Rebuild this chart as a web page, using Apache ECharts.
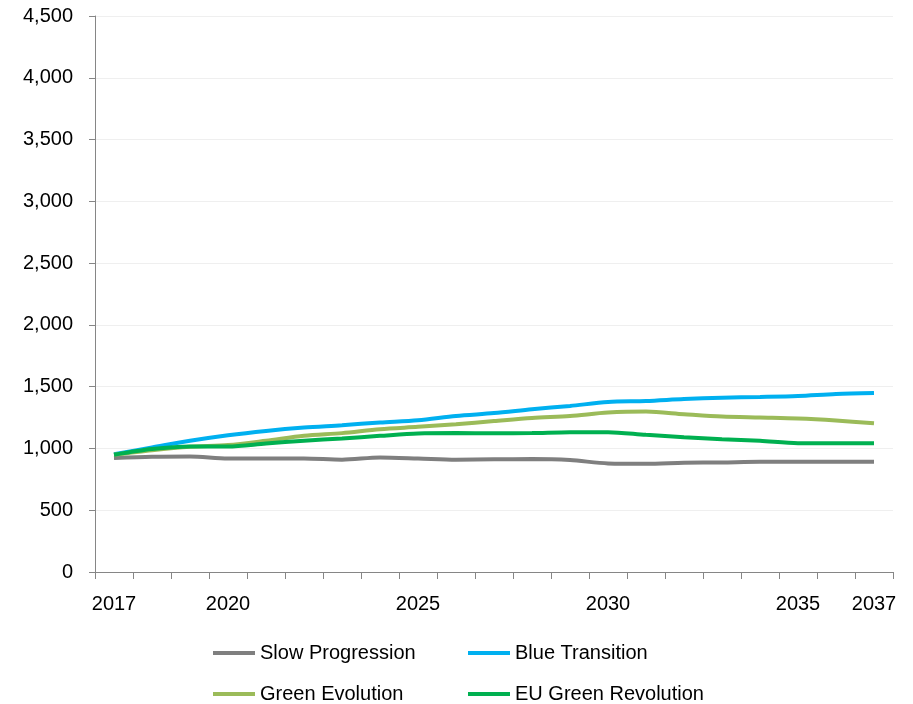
<!DOCTYPE html>
<html>
<head>
<meta charset="utf-8">
<script src="https://cdn.jsdelivr.net/npm/echarts@6/dist/echarts.min.js"></script>
<style>
  html, body { margin: 0; padding: 0; background: #fff; }
  #chart { width: 913px; height: 704px; }
</style>
</head>
<body>
<div id="chart"></div>
<script>
// years on the x axis
var years = ['2017', '2018', '2019', '2020', '2021', '2022', '2023', '2024', '2025', '2026',
             '2027', '2028', '2029', '2030', '2031', '2032', '2033', '2034', '2035', '2036', '2037'];
var shownYears = ['2017', '2020', '2025', '2030', '2035', '2037'];
var yTicks = [0, 500, 1000, 1500, 2000, 2500, 3000, 3500, 4000, 4500];

var slowProgression = [922, 933, 935, 919, 919, 919, 909, 927, 919, 909,
                       912, 914, 906, 879, 876, 884, 887, 892, 892, 892, 892];
var blueTransition = [954, 1008, 1062, 1107, 1142, 1169, 1188, 1210, 1228, 1263,
                      1286, 1317, 1344, 1376, 1384, 1400, 1411, 1417, 1425, 1441, 1449];
var greenEvolution = [949, 985, 1013, 1027, 1062, 1102, 1124, 1156, 1175, 1196,
                      1222, 1247, 1263, 1290, 1298, 1277, 1258, 1250, 1242, 1226, 1204];
var euGreenRevolution = [949, 995, 1016, 1016, 1040, 1062, 1081, 1102, 1121, 1124,
                         1122, 1124, 1132, 1132, 1110, 1091, 1075, 1062, 1043, 1043, 1043];

var chart = echarts.init(document.getElementById('chart'));
var font = 'Liberation Sans';

function line(name, data, color) {
    return {
        name: name,
        type: 'line',
        data: data,
        smooth: 0.3,
        symbol: 'none',
        lineStyle: { color: color, width: 4 },
        itemStyle: { color: color }
    };
}

// one legend per item so the two columns line up like the original
function legendItem(name, left, top) {
    return {
        left: left,
        top: top,
        padding: 0,
        icon: 'rect',
        itemWidth: 42,
        itemHeight: 4,
        textStyle: { fontFamily: font, fontSize: 20, color: '#000' },
        data: [name]
    };
}

var option = {
    animation: false,
    grid: { left: 95, right: 20, top: 16, bottom: 132 },
    legend: [
        legendItem('Slow Progression', 213, 643),
        legendItem('Blue Transition', 468, 643),
        legendItem('Green Evolution', 213, 684),
        legendItem('EU Green Revolution', 468, 684)
    ],
    xAxis: {
        type: 'category',
        data: years,
        boundaryGap: true,
        axisLine: { lineStyle: { color: '#868686', width: 1 } },
        axisTick: { show: true, interval: 0, length: 7, lineStyle: { color: '#868686' } },
        axisLabel: {
            interval: 0,
            margin: 22,
            fontFamily: font,
            fontSize: 20,
            color: '#000',
            formatter: function (v) { return shownYears.indexOf(v) >= 0 ? v : ''; }
        },
        splitLine: { show: false }
    },
    yAxis: {
        type: 'value',
        min: yTicks[0],
        max: yTicks[yTicks.length - 1],
        interval: 500,
        axisLine: { show: true, lineStyle: { color: '#868686', width: 1 } },
        axisTick: { show: true, length: 6, lineStyle: { color: '#868686' } },
        axisLabel: {
            margin: 22,
            fontFamily: font,
            fontSize: 20,
            color: '#000',
            formatter: function (v) { return v.toLocaleString('en-US'); }
        },
        splitLine: { lineStyle: { color: '#EFEFEF', width: 1 } }
    },
    series: [
        line('Slow Progression', slowProgression, '#7F7F7F'),
        line('Blue Transition', blueTransition, '#00B0F0'),
        line('Green Evolution', greenEvolution, '#9BBB59'),
        line('EU Green Revolution', euGreenRevolution, '#00B050')
    ]
};

chart.setOption(option);
</script>
</body>
</html>
